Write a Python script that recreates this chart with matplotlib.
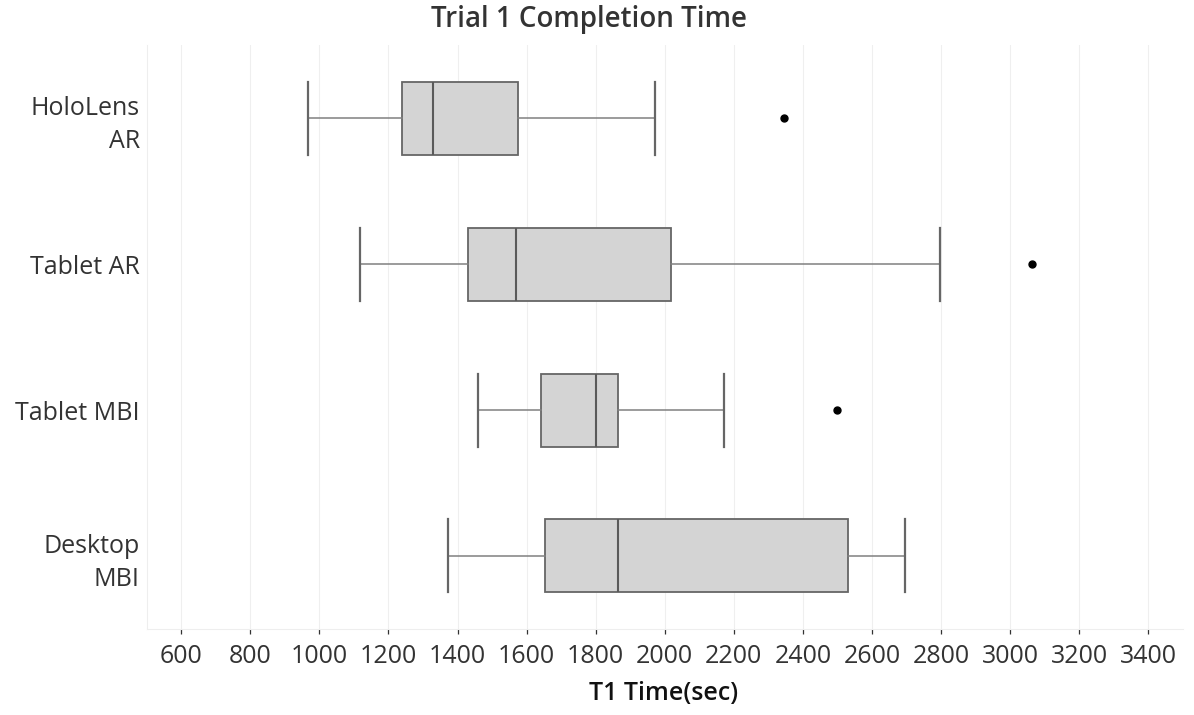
import matplotlib
matplotlib.use("Agg")
import matplotlib.pyplot as plt

plt.rcParams['font.family'] = ['Open Sans', 'DejaVu Sans']

# values (seconds)
devices = ["HoloLens\nAR", "Tablet AR", "Tablet MBI", "Desktop\nMBI"]
whisker_low = [967, 1117, 1458, 1372]
q1 = [1238, 1431, 1642, 1652]
median = [1328, 1570, 1800, 1866]
q3 = [1574, 2018, 1866, 2530]
whisker_high = [1972, 2798, 2172, 2697]
outliers = [[2345], [3063], [2500], []]
x_ticks = list(range(600, 3401, 200))

stats = []
for i in range(len(devices)):
    stats.append({
        "label": devices[i],
        "whislo": whisker_low[i],
        "q1": q1[i],
        "med": median[i],
        "q3": q3[i],
        "whishi": whisker_high[i],
        "fliers": outliers[i],
    })

fig = plt.figure(figsize=(11.94, 7.15), dpi=100)
ax = fig.add_axes([0.1229, 0.1203, 0.8676, 0.8167])

positions = list(range(len(devices)))
ax.bxp(stats, positions=positions, vert=False, widths=0.5, capwidths=0.5,
       patch_artist=True,
       boxprops=dict(facecolor="#d4d4d4", edgecolor="#666666", linewidth=1.3),
       medianprops=dict(color="#5a5a5a", linewidth=1.5),
       whiskerprops=dict(color="#808080", linewidth=1.1),
       capprops=dict(color="#666666", linewidth=1.6),
       flierprops=dict(marker="o", markerfacecolor="black", markeredgecolor="black",
                       markersize=5))

ax.set_xlim(500, 3500)
ax.set_ylim(len(devices) - 0.5, -0.5)
ax.set_xticks(x_ticks)
ax.set_xticklabels([str(t) for t in x_ticks])
ax.set_yticks(positions)
ax.set_yticklabels(devices)

ax.grid(axis="x", color="#efefef", linewidth=0.8)
ax.grid(axis="y", visible=False)
ax.set_axisbelow(True)

for s in ["top", "right"]:
    ax.spines[s].set_visible(False)
ax.spines["left"].set_color("#eeeeee")
ax.spines["bottom"].set_color("#eeeeee")
ax.spines["left"].set_linewidth(0.8)
ax.spines["bottom"].set_linewidth(0.8)

ax.tick_params(axis="x", direction="out", length=3.5, width=0.9, color="#333333",
               labelsize=18, labelcolor="#333333", pad=7)
ax.tick_params(axis="y", length=0, labelsize=18, labelcolor="#333333", pad=5)
for lab in ax.get_yticklabels():
    lab.set_linespacing(1.4)

fig.text(589 / 1194, 1 - 19 / 715, "Trial 1 Completion Time", ha="center", va="center",
         fontsize=20, fontweight="semibold", color="#333333")
fig.text(664 / 1194, 1 - 694 / 715, "T1 Time(sec)", ha="center", va="center",
         fontsize=18, fontweight="semibold", color="#111111")

fig.savefig("out.png", dpi=100)
